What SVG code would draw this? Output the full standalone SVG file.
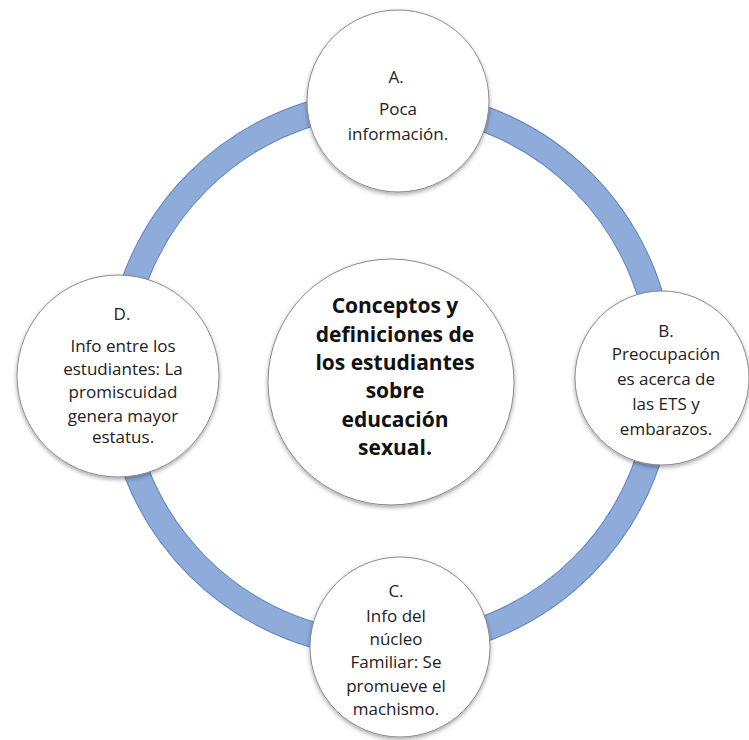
<svg xmlns="http://www.w3.org/2000/svg" width="749" height="740" viewBox="0 0 749 740">
<style>
.node circle{fill:#fff;stroke:#8a8a8a;stroke-width:1;filter:url(#sh)}
.t{font-family:"Open Sans","Liberation Sans",sans-serif;font-size:17px;fill:#222;text-anchor:middle}
.m{font-family:"Open Sans","Liberation Sans",sans-serif;font-size:21px;font-weight:bold;fill:#111;text-anchor:middle}
</style>
<defs>
<filter id="sh" x="-20%" y="-20%" width="140%" height="140%">
<feDropShadow dx="0" dy="2" stdDeviation="2" flood-color="#000" flood-opacity="0.35"/>
</filter>
</defs>
<rect width="749" height="740" fill="#fff"/>
<g id="connectors">
<circle cx="390" cy="374" r="272" fill="none" stroke="#5a87c4" stroke-width="26"/>
<circle cx="390" cy="374" r="272" fill="none" stroke="#8eabda" stroke-width="24"/>
</g>
<g id="center" class="node">
<circle cx="391" cy="382" r="123"/>
<text class="m" x="395" y="313">Conceptos y</text>
<text class="m" x="395" y="342">definiciones de</text>
<text class="m" x="395" y="370">los estudiantes</text>
<text class="m" x="395" y="398">sobre</text>
<text class="m" x="395" y="427">educación</text>
<text class="m" x="395" y="455">sexual.</text>
</g>
<g id="nodeA" class="node">
<circle cx="398" cy="101" r="91"/>
<text class="t" x="396" y="83">A.</text>
<text class="t" x="398" y="115">Poca</text>
<text class="t" x="398" y="140">información.</text>
</g>
<g id="nodeB" class="node">
<circle cx="662" cy="378" r="87"/>
<text class="t" x="666" y="337">B.</text>
<text class="t" x="666" y="360">Preocupación</text>
<text class="t" x="666" y="385">es acerca de</text>
<text class="t" x="666" y="410">las ETS y</text>
<text class="t" x="666" y="435">embarazos.</text>
</g>
<g id="nodeC" class="node">
<circle cx="400" cy="647" r="90"/>
<text class="t" x="396" y="597">C.</text>
<text class="t" x="396" y="622">Info del</text>
<text class="t" x="396" y="645">núcleo</text>
<text class="t" x="396" y="668">Familiar: Se</text>
<text class="t" x="396" y="692">promueve el</text>
<text class="t" x="396" y="715">machismo.</text>
</g>
<g id="nodeD" class="node">
<circle cx="118" cy="376" r="101"/>
<text class="t" x="122" y="320">D.</text>
<text class="t" x="123" y="352">Info entre los</text>
<text class="t" x="123" y="375">estudiantes: La</text>
<text class="t" x="123" y="398">promiscuidad</text>
<text class="t" x="123" y="422">genera mayor</text>
<text class="t" x="123" y="443">estatus.</text>
</g>
</svg>
